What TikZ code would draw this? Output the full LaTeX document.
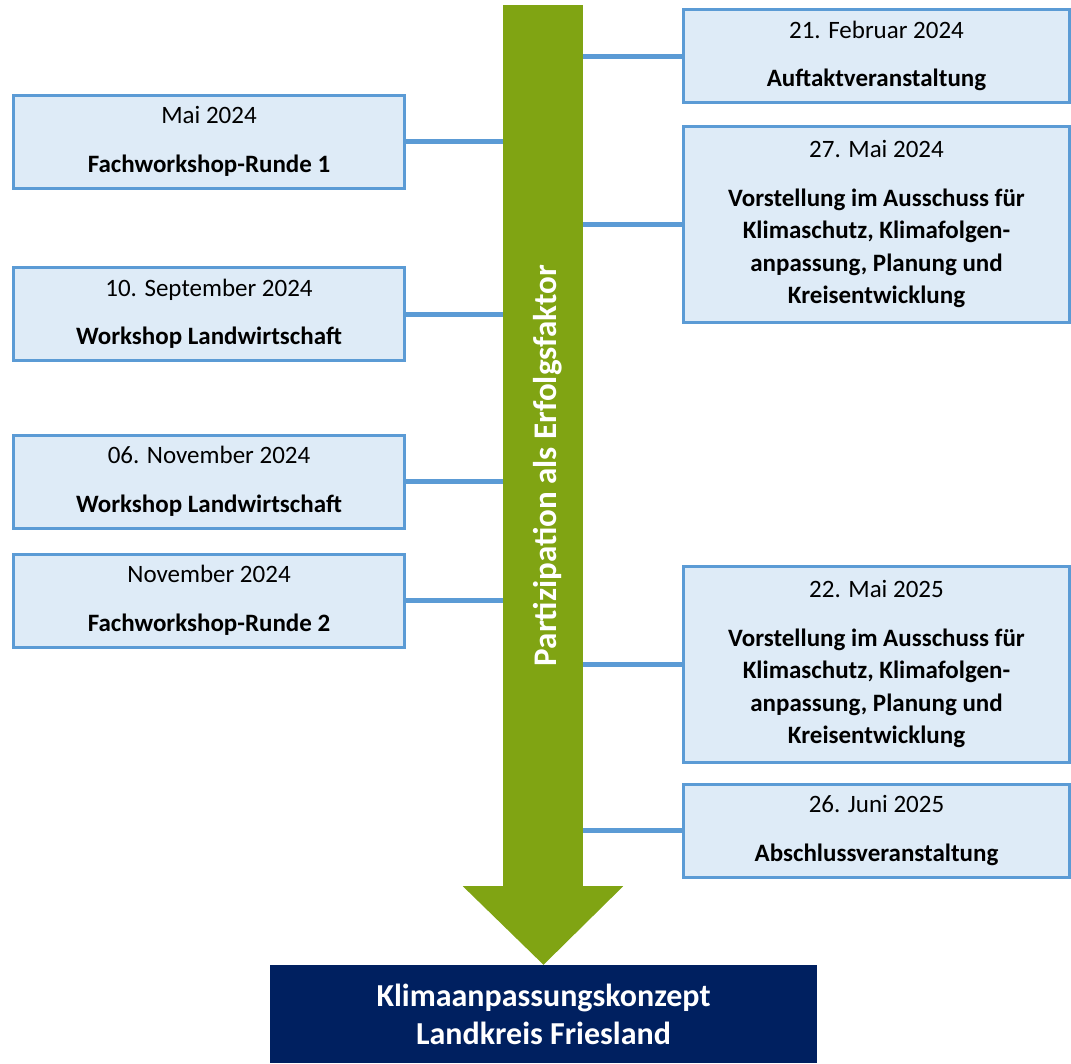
\documentclass[tikz,border=0pt]{standalone}
\usepackage{fontspec}
\setmainfont{Carlito}
\usepackage{xcolor}
\usepackage{tikz}
\usetikzlibrary{calc}

\definecolor{stemgreen}{RGB}{128,164,19}
\definecolor{boxfill}{RGB}{222,235,247}
\definecolor{boxline}{RGB}{91,155,213}
\definecolor{navyblue}{RGB}{0,32,96}

\begin{document}
\begin{tikzpicture}[
  x=1pt, y=-1pt,
  event/.style={rectangle, draw=boxline, line width=3pt, fill=boxfill, minimum width=391pt, minimum height=93pt, inner sep=0pt, align=center, font=\fontsize{25}{32.5}\selectfont},
  tall/.style={minimum height=196pt},
  right/.style={minimum width=386pt},
  link/.style={draw=boxline, line width=5pt},
  stem/.style={rectangle, fill=stemgreen, minimum width=80pt, minimum height=881pt, inner sep=0pt},
  goal/.style={rectangle, fill=navyblue, minimum width=547pt, minimum height=98pt, inner sep=0pt, align=center, text=white, font=\bfseries\fontsize{32}{38}\selectfont}
]
\useasboundingbox (0,0) rectangle (1071,1063);

\node (shaft) [stem] at (543,445.5) {};
\node (motto) [rotate=90, text=white, font=\bfseries\fontsize{33}{36}\selectfont] at ($(shaft.center)+(5,20)$) {Partizipation als Erfolgsfaktor};
\node (konzept) [goal] at (543.5,1014) {Klimaanpassungskonzept\\Landkreis Friesland};
\fill [stemgreen] ($(shaft.south west)+(-40,0)$) -- ($(shaft.south east)+(40,0)$) -- (konzept.north) -- cycle;

\node (fwsA) [event] at (209,141.5) {Mai 2024\\[16pt]\textbf{Fachworkshop-Runde 1}};
\node (wsA) [event] at (209,314) {10. September 2024\\[16pt]\textbf{Workshop Landwirtschaft}};
\node (wsB) [event] at (209,481.5) {06. November 2024\\[16pt]\textbf{Workshop Landwirtschaft}};
\node (fwsB) [event] at (209,600.5) {November 2024\\[16pt]\textbf{Fachworkshop-Runde 2}};

\node (auftakt) [event, right] at (876.5,56) {21. Februar 2024\\[16pt]\textbf{Auftaktveranstaltung}};
\node (ausschussA) [event, right, tall] at (876.5,224.5) {27. Mai 2024\\[16pt]\textbf{Vorstellung im Ausschuss für}\\\textbf{Klimaschutz, Klimafolgen-}\\\textbf{anpassung, Planung und}\\\textbf{Kreisentwicklung}};
\node (ausschussB) [event, right, tall] at (876.5,664.5) {22. Mai 2025\\[16pt]\textbf{Vorstellung im Ausschuss für}\\\textbf{Klimaschutz, Klimafolgen-}\\\textbf{anpassung, Planung und}\\\textbf{Kreisentwicklung}};
\node (abschluss) [event, right] at (876.5,830.5) {26. Juni 2025\\[16pt]\textbf{Abschlussveranstaltung}};

\draw [link] (fwsA.east) -- (fwsA.east -| shaft.west);
\draw [link] (wsA.east) -- (wsA.east -| shaft.west);
\draw [link] (wsB.east) -- (wsB.east -| shaft.west);
\draw [link] (fwsB.east) -- (fwsB.east -| shaft.west);
\draw [link] (auftakt.west) -- (auftakt.west -| shaft.east);
\draw [link] (ausschussA.west) -- (ausschussA.west -| shaft.east);
\draw [link] (ausschussB.west) -- (ausschussB.west -| shaft.east);
\draw [link] (abschluss.west) -- (abschluss.west -| shaft.east);

\end{tikzpicture}
\end{document}
